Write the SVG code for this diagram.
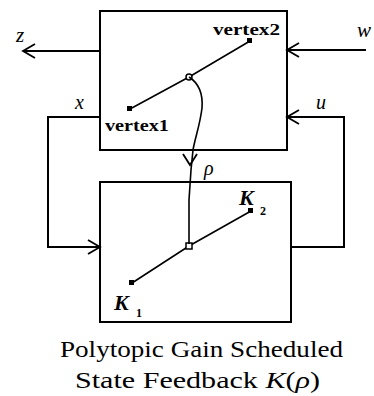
<svg xmlns="http://www.w3.org/2000/svg" width="374" height="396" viewBox="0 0 374 396">
<style>
.box{fill:none;stroke:#000;stroke-width:2}
.ln{fill:none;stroke:#000;stroke-width:2}
.thin{fill:none;stroke:#000;stroke-width:1.6}
.t{font-family:"Liberation Serif","Times New Roman",serif;fill:#000}
.it{font-style:italic}
.head{fill:none;stroke:#000;stroke-width:1.8}
</style>
<rect width="374" height="396" fill="#fff"/>
<g id="plant">
<rect class="box" x="100" y="11" width="187" height="139"/>
<path class="thin" d="M130,109 L189,77 L250,41"/>
<rect x="127" y="106" width="5" height="5" fill="#000"/>
<rect x="247" y="38" width="5" height="5" fill="#000"/>
<circle cx="189" cy="77" r="3" fill="#fff" stroke="#000" stroke-width="1.5"/>
<text class="t" x="213" y="35" font-size="17" font-weight="bold" textLength="67" lengthAdjust="spacingAndGlyphs">vertex2</text>
<text class="t" x="105" y="131" font-size="17" font-weight="bold" textLength="64" lengthAdjust="spacingAndGlyphs">vertex1</text>
</g>
<g id="controller">
<rect class="box" x="100" y="182" width="191" height="140"/>
<path class="thin" d="M132,283 L189,246 L251,211"/>
<rect x="129" y="280" width="5" height="5" fill="#000"/>
<rect x="248" y="208" width="5" height="5" fill="#000"/>
<rect x="186" y="243" width="6" height="6" fill="#fff" stroke="#000" stroke-width="1.5"/>
<text class="t it" x="239" y="205" font-size="22" font-weight="bold">K</text>
<text class="t" x="260" y="215" font-size="12" font-weight="bold">2</text>
<text class="t it" x="114" y="310" font-size="22" font-weight="bold">K</text>
<text class="t" x="136" y="317" font-size="12" font-weight="bold">1</text>
</g>
<g id="connectors">
<path class="ln" d="M100,51 L23,51"/>
<path class="head" d="M35,44 L23,51 L35,58"/>
<path class="ln" d="M366,50 L287,50"/>
<path class="head" d="M299,43 L287,50 L299,57"/>
<path class="ln" d="M100,117 L48,117 L48,247 L100,247"/>
<path class="head" d="M88,240 L100,247 L88,254"/>
<path class="ln" d="M291,247 L344,247 L344,117 L287,117"/>
<path class="head" d="M299,110 L287,117 L299,124"/>
<path class="thin" d="M189,77 C200,84 203,95 202,108 C200,125 195,138 193,150 L191,170 L189,200 L189,244"/>
<path class="head" d="M183,154 L190,165 L197,154"/>
</g>
<g id="labels">
<text class="t it" x="16" y="42" font-size="21">z</text>
<text class="t it" x="357" y="37" font-size="21">w</text>
<text class="t it" x="75" y="109" font-size="20">x</text>
<text class="t it" x="316" y="109" font-size="20">u</text>
<text class="t it" x="204" y="175" font-size="20">ρ</text>
<text class="t" x="60" y="357" font-size="24" textLength="283" lengthAdjust="spacingAndGlyphs">Polytopic Gain Scheduled</text>
<text class="t" x="75" y="388" font-size="24" textLength="245" lengthAdjust="spacingAndGlyphs">State Feedback <tspan class="it">K</tspan>(<tspan class="it">ρ</tspan>)</text>
</g>
</svg>
